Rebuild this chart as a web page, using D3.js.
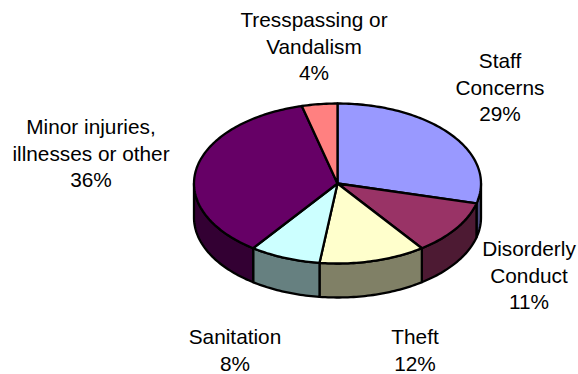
<!DOCTYPE html>
<html>
<head>
<meta charset="utf-8">
<script src="https://cdn.jsdelivr.net/npm/d3@7"></script>
<style>
  body { margin: 0; background: #fff; }
  svg { display: block; }
</style>
</head>
<body>
<svg id="chart" width="578" height="374"></svg>
<script>
// data
var categories = ["Staff Concerns", "Disorderly Conduct", "Theft", "Sanitation", "Minor injuries, illnesses or other", "Tresspassing or Vandalism"];
var values = [29, 11, 12, 8, 36, 4];
var labelLines = [["Staff", "Concerns"], ["Disorderly", "Conduct"], ["Theft"], ["Sanitation"], ["Minor injuries,", "illnesses or other"], ["Tresspassing or", "Vandalism"]];
var colors = ["#9999FF", "#993366", "#FFFFCC", "#CCFFFF", "#660066", "#FF8080"];

// label anchors (center x, first baseline)
var labelPos = [[500, 68], [529, 256], [415, 344], [235, 344], [91, 134], [314, 27]];

var svg = d3.select("#chart");
var cx = 337.5, cy = 183.5, rx = 143.5, ry = 80, depth = 34;

var pie = d3.pie().sort(null).value(function(d) { return d; });
var arcs = pie(values);

function pt(a, dy) {
  return [cx + rx * Math.sin(a), cy - ry * Math.cos(a) + (dy || 0)];
}
function samples(a0, a1) {
  var n = Math.max(2, Math.ceil((a1 - a0) / 0.02));
  return d3.range(n + 1).map(function(i) { return a0 + (a1 - a0) * i / n; });
}
var line = d3.line();

function darker(c) {
  var r = d3.rgb(c);
  return d3.rgb(r.r / 2, r.g / 2, r.b / 2).toString();
}

// side walls (front half only)
arcs.forEach(function(d, i) {
  var s = Math.max(d.startAngle, Math.PI / 2), e = Math.min(d.endAngle, 3 * Math.PI / 2);
  if (s >= e) return;
  var a = samples(s, e);
  var top = a.map(function(t) { return pt(t, 0); });
  var bot = a.slice().reverse().map(function(t) { return pt(t, depth); });
  svg.append("path")
    .attr("d", line(top.concat(bot)) + "Z")
    .attr("fill", darker(colors[i]))
    .attr("stroke", "#000")
    .attr("stroke-width", 2.3)
    .attr("stroke-linejoin", "round");
});

// top faces
arcs.forEach(function(d, i) {
  var p = [[cx, cy]].concat(samples(d.startAngle, d.endAngle).map(function(t) { return pt(t, 0); }));
  svg.append("path")
    .attr("d", line(p) + "Z")
    .attr("fill", colors[i])
    .attr("stroke", "#000")
    .attr("stroke-width", 2.3)
    .attr("stroke-linejoin", "round");
});

// labels
var lh = 26.6;
arcs.forEach(function(d, i) {
  var lines = labelLines[i].concat([values[i] + "%"]);
  var t = svg.append("text")
    .attr("x", labelPos[i][0])
    .attr("y", labelPos[i][1])
    .attr("text-anchor", "middle")
    .style("font-family", "'Liberation Sans', Arial, sans-serif")
    .style("font-size", "20.8px")
    .attr("fill", "#000");
  lines.forEach(function(s, j) {
    t.append("tspan").attr("x", labelPos[i][0]).attr("dy", j === 0 ? 0 : lh).text(s);
  });
});
</script>
</body>
</html>
